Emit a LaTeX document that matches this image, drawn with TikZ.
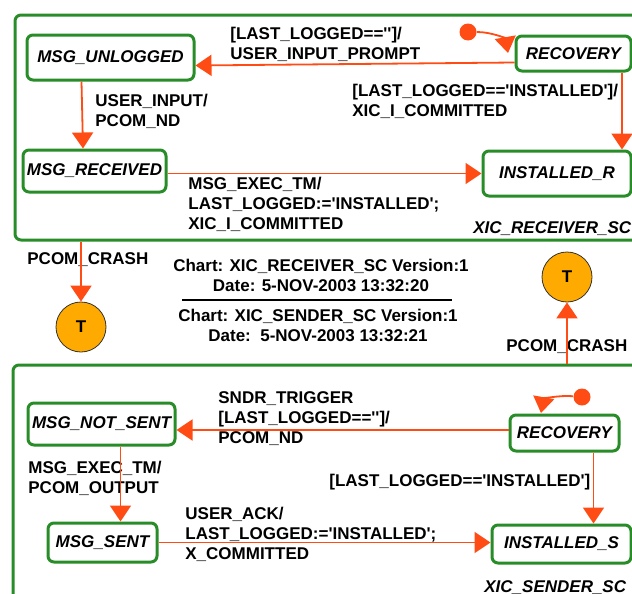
\documentclass[tikz,border=0pt]{standalone}
\usepackage{fontspec}
\setmainfont{Liberation Sans}[Ligatures=TeXOff]
\usetikzlibrary{arrows.meta}
\definecolor{stgreen}{RGB}{40,140,40}
\definecolor{trred}{RGB}{255,75,20}
\definecolor{torange}{RGB}{255,170,0}

\begin{document}
\fontsize{8.5}{10}\selectfont
\begin{tikzpicture}[x=0.5pt, y=-0.5pt,
		chart/.style = {rectangle, draw=stgreen, line width=1.5pt, rounded corners=3pt},
		st/.style = {rectangle, draw=stgreen, fill=white, line width=1.5pt, rounded corners=3pt, inner sep=1pt, font=\bfseries\itshape},
		lb/.style = {anchor=north west, inner sep=0pt, align=left, font=\bfseries},
		info/.style = {anchor=north, inner sep=0pt, align=center, font=\bfseries},
		term/.style = {circle, draw=black!80, line width=0.4pt, fill=torange, minimum size=25pt, font=\bfseries},
		dot/.style = {circle, fill=trred, inner sep=0pt, minimum size=8.5pt},
		tr/.style = {-{Triangle[length=8pt, width=10.5pt]}, draw=trred, line width=0.9pt}
		]
		\useasboundingbox (0,0) rectangle (632,594);
		
		%Charts
		\node[chart, minimum width=317.5pt, minimum height=112.5pt] (recv) at (332.5,127.5) {};
		\node[chart, minimum width=318.5pt, minimum height=127.5pt] (send) at (331.5,492.5) {};
		
		%Nodes
		\node[st, minimum width=83.5pt, minimum height=22.5pt]	(unl)	at (110.5,57.5)	{MSG\_UNLOGGED};
		\node[st, minimum width=71.5pt, minimum height=21pt]	(rcv)	at (94.5,171)	{MSG\_RECEIVED};
		\node[st, minimum width=57.5pt, minimum height=17.5pt]	(rec1)	at (573.5,53.5)	{RECOVERY};
		\node[st, minimum width=74pt, minimum height=22.5pt]	(instr)	at (557,173.5)	{INSTALLED\_R};
		\node[st, minimum width=73.5pt, minimum height=21pt]	(nsent)	at (101.5,424)	{MSG\_NOT\_SENT};
		\node[st, minimum width=54.5pt, minimum height=19.5pt]	(sent)	at (102.5,542.5)	{MSG\_SENT};
		\node[st, minimum width=54.5pt, minimum height=18pt]	(rec2)	at (564.5,433)	{RECOVERY};
		\node[st, minimum width=69.5pt, minimum height=19pt]	(insts)	at (561.5,544)	{INSTALLED\_S};
		
		\node[term]	(t1)	at (81,327)		{T};
		\node[term]	(t2)	at (567,277)	{T};
		\node[dot]	(dot1)	at (468,32)		{};
		\node[dot]	(dot2)	at (582,397)	{};
		\coordinate (in1) at (508,53);
		\coordinate (in2) at (541,413);
		
		%Labels
		\node[lb]	(l1)	at (230,26.5)	{[LAST\_LOGGED=='']/\\USER\_INPUT\_PROMPT};
		\node[lb]	(l2)	at (352,83.5)	{[LAST\_LOGGED=='INSTALLED']/\\XIC\_I\_COMMITTED};
		\node[lb]	(l3)	at (95,93.5)	{USER\_INPUT/\\PCOM\_ND};
		\node[lb]	(l4)	at (188,176.5)	{MSG\_EXEC\_TM/\\LAST\_LOGGED:='INSTALLED';\\XIC\_I\_COMMITTED};
		\node[lb, font=\bfseries\itshape]	(n1)	at (473,221.5)	{XIC\_RECEIVER\_SC};
		\node[lb]	(c1)	at (27,252.5)	{PCOM\_CRASH};
		\node[lb]	(c2)	at (506,339.5)	{PCOM\_CRASH};
		\node[lb]	(l5)	at (218,391.5)	{SNDR\_TRIGGER\\{}[LAST\_LOGGED=='']/\\PCOM\_ND};
		\node[lb]	(l6)	at (329,473.5)	{[LAST\_LOGGED=='INSTALLED']};
		\node[lb]	(l7)	at (28,460.5)	{MSG\_EXEC\_TM/\\PCOM\_OUTPUT};
		\node[lb]	(l8)	at (185,506.5)	{USER\_ACK/\\LAST\_LOGGED:='INSTALLED';\\X\_COMMITTED};
		\node[lb, font=\bfseries\itshape]	(n2)	at (484,580.5)	{XIC\_SENDER\_SC};
		
		\node[info]	(ch1)	at (321,258.5)	{Chart: XIC\_RECEIVER\_SC Version:1\\Date: 5-NOV-2003 13:32:20};
		\node[info]	(ch2)	at (318,308.5)	{Chart: XIC\_SENDER\_SC Version:1\\Date:\ \ 5-NOV-2003 13:32:21};
		\draw[line width=1pt] (182,300) -- (452,300);
		
		%Lines
		\draw[tr] (dot1) to[out=0, in=100] (in1);
		\draw[tr] ([yshift=-4.5pt]rec1.west) -- ([yshift=-4pt]unl.east);
		\draw[tr] ([xshift=32.5pt]instr.north |- rec1.south) -- ([xshift=32.5pt]instr.north);
		\draw[tr] ([xshift=-14.5pt]unl.south) -- ([xshift=-5.75pt]rcv.north);
		\draw[tr] (rcv.east |- instr.west) -- (instr.west);
		\draw[tr] (t1.north |- recv.south) -- (t1.north);
		\draw[tr] (t2.south |- send.north) -- (t2.south);
		
		\draw[tr] (dot2) to[out=175, in=80] (in2);
		\draw[tr] ([yshift=1.5pt]rec2.west) -- ([yshift=1.5pt]rec2.west -| nsent.east);
		\draw[tr] ([xshift=16pt]insts.north |- rec2.south) -- ([xshift=16pt]insts.north);
		\draw[tr] ([xshift=9pt]sent.north |- nsent.south) -- ([xshift=9pt]sent.north);
		\draw[tr] (sent.east) -- (sent.east -| insts.west);
		
	\end{tikzpicture}
\end{document}
